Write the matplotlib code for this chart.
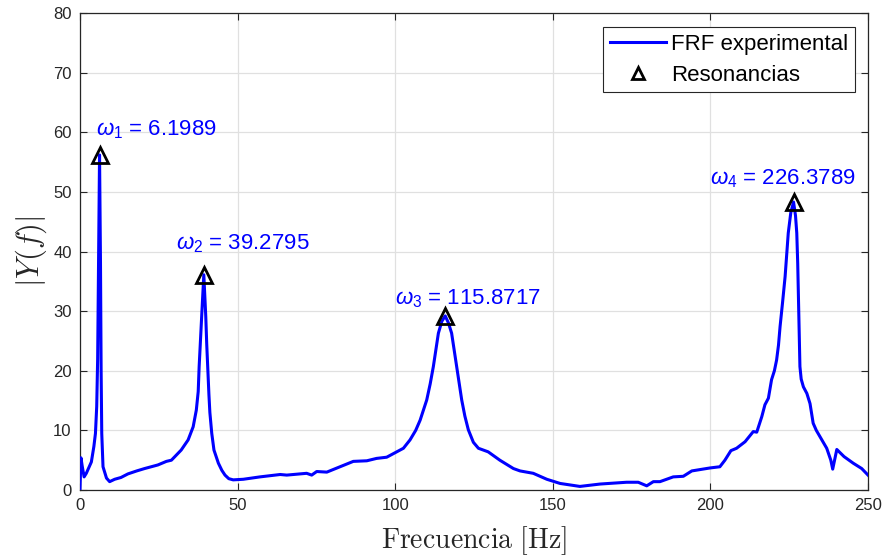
import matplotlib
matplotlib.use("Agg")
import matplotlib.pyplot as plt

plt.rcParams["font.family"] = ["Liberation Sans", "DejaVu Sans"]
plt.rcParams["mathtext.fontset"] = "custom"
plt.rcParams["mathtext.rm"] = "Liberation Sans"
plt.rcParams["mathtext.it"] = "Liberation Sans:italic"

# Measured frequency response magnitude
freq_hz = [
    0.0, 0.3, 0.7, 1.3, 2.0, 2.5, 3.6, 4.4, 4.9, 5.3, 5.6, 5.9, 6.1989, 6.5, 6.7,
    6.9, 7.3, 8.4, 9.4, 11.0, 13.0, 15.2, 18.0, 20.5, 24.7, 27.4, 29.0, 32.1,
    34.3, 35.9, 36.9, 37.5, 37.8, 38.2, 38.6, 39.2795, 39.9, 40.2, 40.5, 40.9,
    41.2, 41.8, 42.5, 43.9, 45.0, 46.0, 47.2, 48.6, 51.8, 57.1, 63.5, 65.6,
    71.9, 73.5, 75.1, 78.3, 82.5, 86.7, 91.0, 94.1, 97.3, 100.5, 102.6, 104.7,
    106.5, 107.9, 110.0, 111.1, 112.1, 113.0, 113.7, 114.8, 115.8717, 116.9,
    117.9, 118.7, 119.5, 120.3, 121.1, 122.1, 123.2, 124.8, 126.4, 129.5,
    133.2, 137.5, 139.6, 143.8, 148.1, 152.3, 158.6, 165.0, 173.4, 177.1,
    179.8, 181.9, 184.0, 188.2, 191.4, 194.1, 197.7, 199.9, 203.0, 204.6,
    206.5, 208.3, 211.0, 213.6, 214.7, 216.3, 217.3, 218.4, 219.4, 220.3,
    221.0, 221.6, 222.1, 222.9, 223.7, 224.2, 224.7, 225.5, 226.3789, 227.0,
    227.4, 227.7, 227.9, 228.2, 228.4, 228.8, 229.5, 230.6, 231.6, 232.6,
    233.6, 234.8, 236.9, 238.2, 238.8, 239.4, 240.1, 242.4, 245.3, 248.0,
    250.0,
]
magnitude = [
    0.2, 5.4, 4.0, 2.2, 2.8, 3.4, 4.7, 7.3, 9.5, 14.0, 22.0, 40.0, 56.2, 38.0, 20.0,
    9.5, 3.9, 2.0, 1.4, 1.8, 2.1, 2.7, 3.2, 3.6, 4.2, 4.8, 5.0, 6.7,
    8.4, 10.6, 13.4, 16.5, 20.7, 25.0, 29.1, 36.1, 29.1, 24.5, 20.7, 16.0,
    13.0, 9.5, 6.7, 4.5, 3.3, 2.5, 1.9, 1.7, 1.8, 2.2, 2.6, 2.5,
    2.8, 2.5, 3.1, 3.0, 3.9, 4.8, 4.9, 5.3, 5.5, 6.4, 7.0, 8.4,
    10.0, 11.7, 15.1, 17.8, 20.7, 23.8, 26.3, 28.3, 29.2, 28.0,
    26.3, 23.5, 20.7, 17.8, 15.1, 12.4, 10.1, 8.0, 7.0, 6.4,
    5.0, 3.6, 3.2, 2.8, 1.8, 1.1, 0.6, 1.0, 1.3, 1.3,
    0.7, 1.4, 1.4, 2.2, 2.3, 3.2, 3.5, 3.7, 3.9, 5.0,
    6.6, 7.0, 8.1, 9.8, 9.7, 12.3, 14.3, 15.4, 18.5, 20.0,
    21.8, 24.3, 27.4, 31.5, 35.8, 39.5, 43.1, 46.5, 48.3, 46.0,
    43.1, 38.0, 33.0, 26.0, 20.7, 18.6, 17.3, 16.2, 14.5, 11.2,
    10.0, 8.9, 7.0, 5.0, 3.5, 5.0, 6.8, 5.6, 4.5, 3.6,
    2.5,
]

# Identified resonances
res_freq = [6.1989, 39.2795, 115.8717, 226.3789]
res_amp = [56.2, 36.1, 29.2, 48.3]

x_ticks = [0, 50, 100, 150, 200, 250]
y_ticks = [0, 10, 20, 30, 40, 50, 60, 70, 80]

# label anchor offsets (dx in Hz, dy in amplitude) for each resonance label
label_dx = [-1.2, -8.9, -16.0, -26.4]
label_dy = [3.3, 4.3, 2.0, 3.0]

fig = plt.figure(figsize=(8.85, 5.56), dpi=100)
ax = fig.add_axes([0.0904, 0.1187, 0.8904, 0.8579])

ax.plot(freq_hz, magnitude, color=(0, 0, 1), lw=2.2, label="FRF experimental",
        solid_joinstyle="round", zorder=3)
ax.plot(res_freq, res_amp, linestyle="none", marker="^", markersize=11,
        markerfacecolor="none", markeredgecolor="black", markeredgewidth=2,
        label="Resonancias", zorder=4)

for i, (f, a) in enumerate(zip(res_freq, res_amp)):
    ax.text(f + label_dx[i], a + label_dy[i], rf"$\omega_{i + 1}$ = {f:.4f}",
            color=(0, 0, 1), fontsize=16, ha="left", va="baseline")

ax.set_xlim(0, 250)
ax.set_ylim(0, 80)
ax.set_xticks(x_ticks)
ax.set_yticks(y_ticks)
ax.tick_params(direction="in", length=5, width=0.8, colors="#262626",
               labelsize=12, top=True, right=True, pad=6)
for lab in ax.get_xticklabels() + ax.get_yticklabels():
    lab.set_color("#262626")
for sp in ax.spines.values():
    sp.set_color("#262626")
    sp.set_linewidth(0.9)
ax.grid(True, color="#e0e0e0", lw=0.9)
ax.set_axisbelow(True)

ax.set_xlabel(r"$\mathrm{Frecuencia\ [Hz]}$", fontsize=20, math_fontfamily="cm",
              color="#262626", labelpad=8)
ax.set_ylabel(r"$|Y(f)|$", fontsize=22, math_fontfamily="cm", color="#262626",
              labelpad=3)

leg = ax.legend(loc="upper right", fontsize=16, frameon=True, fancybox=False,
                edgecolor="#262626", framealpha=1, borderpad=0.3,
                handlelength=2.5, handletextpad=0.25, labelspacing=0.45,
                borderaxespad=0, bbox_to_anchor=(0.9835, 0.9706))
leg.get_frame().set_linewidth(0.8)
for h in leg.legend_handles:
    if h.get_marker() == "^":
        h.set_markersize(9)

fig.savefig("out.png", dpi=100)
